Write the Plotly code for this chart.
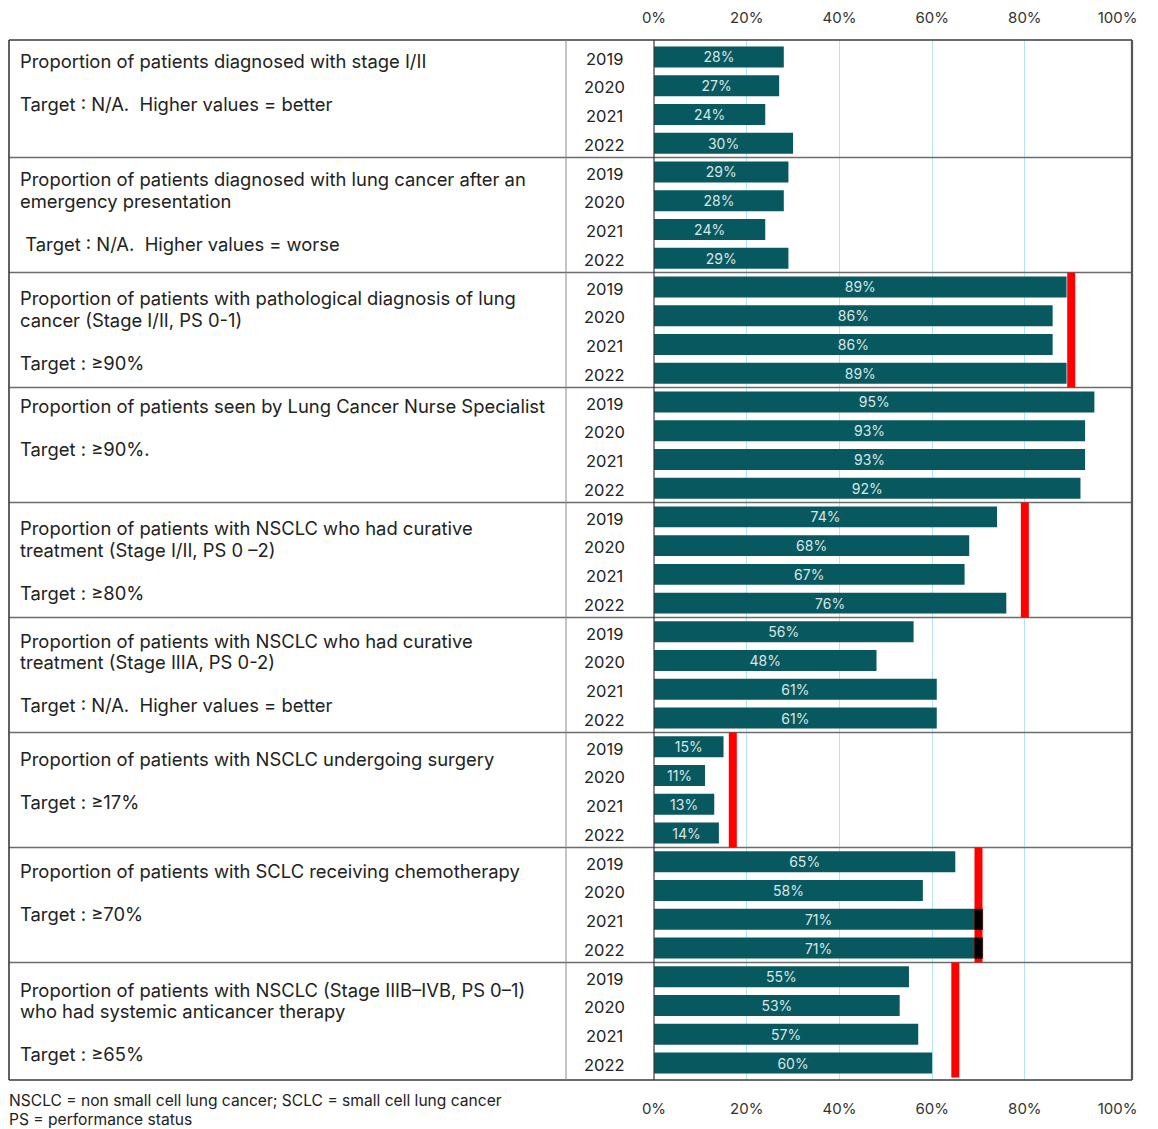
import plotly.graph_objects as go

# ---- data -------------------------------------------------------------
years = ["2019", "2020", "2021", "2022"]

stage_1_2 = [28, 27, 24, 30]
emergency_presentation = [29, 28, 24, 29]
pathological_diagnosis = [89, 86, 86, 89]
nurse_specialist = [95, 93, 93, 92]
curative_stage_1_2 = [74, 68, 67, 76]
curative_stage_3a = [56, 48, 61, 61]
nsclc_surgery = [15, 11, 13, 14]
sclc_chemotherapy = [65, 58, 71, 71]
systemic_therapy = [55, 53, 57, 60]

indicator_titles = [
    "Proportion of patients diagnosed with stage I/II",
    "Proportion of patients diagnosed with lung cancer after an<br>emergency presentation",
    "Proportion of patients with pathological diagnosis of lung<br>cancer (Stage I/II, PS 0-1)",
    "Proportion of patients seen by Lung Cancer Nurse Specialist",
    "Proportion of patients with NSCLC who had curative<br>treatment (Stage I/II, PS 0 \u20132)",
    "Proportion of patients with NSCLC who had curative<br>treatment (Stage IIIA, PS 0-2)",
    "Proportion of patients with NSCLC undergoing surgery",
    "Proportion of patients with SCLC receiving chemotherapy",
    "Proportion of patients with NSCLC (Stage IIIB\u2013IVB, PS 0\u20131)<br>who had systemic anticancer therapy",
]
target_texts = [
    "Target : N/A.\u00a0 Higher values = better",
    "\u00a0Target : N/A.\u00a0 Higher values = worse",
    "Target : \u226590%",
    "Target : \u226590%.",
    "Target : \u226580%",
    "Target : N/A.\u00a0 Higher values = better",
    "Target : \u226517%",
    "Target : \u226570%",
    "Target : \u226565%",
]
# target marker drawn on the chart (None = no marker)
target_lines = [None, None, 90, None, 80, None, 17, 70, 65]

footnote_lines = [
    "NSCLC = non small cell lung cancer; SCLC = small cell lung cancer",
    "PS = performance status",
]

series = [stage_1_2, emergency_presentation, pathological_diagnosis,
          nurse_specialist, curative_stage_1_2, curative_stage_3a,
          nsclc_surgery, sclc_chemotherapy, systemic_therapy]

# ---- geometry -----------------------------------------------------------
W, H = 1158, 1129
PLOT_L, PLOT_R, PLOT_T, PLOT_B = 654, 1131, 40, 1080
X_MAX = 102.9
N_SLOTS = len(series) * len(years)
PAD = 0.59
Y_RANGE = [N_SLOTS - 1 + PAD, -PAD]
SLOT_PX = (PLOT_B - PLOT_T) / (N_SLOTS - 1 + 2 * PAD)

# offset (px) of the first description line below the top of its row
first_line_px = [18.5, 21.5, 25.5, 18.5, 25.5, 23.5, 26.5, 23.5, 27.5]
LINE_PX = 21.5


def px_to_paper_x(px):
    return (px - PLOT_L) / (PLOT_R - PLOT_L)


def px_to_paper_y(px):
    return (PLOT_B - px) / (PLOT_B - PLOT_T)


TEAL = "#08595f"
RED = "#ff0000"
GRID = "#b6e2f5"
FONT = "Inter"
TEXT_COL = "#222222"

# flatten series into one bar per slot
slot_pos, slot_val, slot_lab, slot_year = [], [], [], []
for g, vals in enumerate(series):
    for i, v in enumerate(vals):
        slot_pos.append(g * len(years) + i)
        slot_val.append(v)
        slot_lab.append(f"{v}%")
        slot_year.append(years[i])

fig = go.Figure()
fig.add_trace(go.Bar(
    x=slot_val, y=slot_pos, orientation="h", width=0.73,
    marker=dict(color=TEAL, line=dict(width=0)),
    text=slot_lab, textposition="inside", insidetextanchor="middle",
    textfont=dict(family=FONT, size=14, color="#d9e6e6"),
    constraintext="none", hoverinfo="skip", showlegend=False,
))
# invisible traces that carry the bottom axis and the grid axis
for ax in ("x2", "x3"):
    fig.add_trace(go.Scatter(x=[0, 100], y=[0, 0], xaxis=ax, mode="markers",
                             marker=dict(opacity=0), hoverinfo="skip",
                             showlegend=False))

shapes = []
annotations = []

# group dividers spanning every column
for g in range(1, len(series)):
    yb = g * len(years) - 0.5
    shapes.append(dict(type="line", xref="paper", yref="y",
                       x0=px_to_paper_x(9), x1=px_to_paper_x(1132),
                       y0=yb, y1=yb, line=dict(color="#6b6b6b", width=1.6),
                       layer="above"))

# outer frame and column separators
frame = dict(color="#3a3a3a", width=1.6)
shapes += [
    dict(type="line", xref="paper", yref="paper", x0=px_to_paper_x(9),
         x1=px_to_paper_x(1132), y0=1, y1=1, line=frame, layer="above"),
    dict(type="line", xref="paper", yref="paper", x0=px_to_paper_x(9),
         x1=px_to_paper_x(1132), y0=0, y1=0, line=frame, layer="above"),
    dict(type="line", xref="paper", yref="paper", x0=px_to_paper_x(9),
         x1=px_to_paper_x(9), y0=0, y1=1, line=frame, layer="above"),
    dict(type="line", xref="paper", yref="paper", x0=px_to_paper_x(1132),
         x1=px_to_paper_x(1132), y0=0, y1=1,
         line=dict(color="#555555", width=2.2), layer="above"),
    dict(type="line", xref="paper", yref="paper", x0=px_to_paper_x(566),
         x1=px_to_paper_x(566), y0=0, y1=1,
         line=dict(color="#8a8a8a", width=1), layer="above"),
    dict(type="line", xref="paper", yref="paper", x0=0, x1=0, y0=0, y1=1,
         line=dict(color="#3a3a3a", width=1.2), layer="above"),
]

# target markers
half_w = 4 / ((PLOT_R - PLOT_L) / X_MAX)
for g, t in enumerate(target_lines):
    if t is None:
        continue
    y0 = g * len(years) - 0.5
    y1 = y0 + len(years)
    shapes.append(dict(type="rect", xref="x", yref="y",
                       x0=t - half_w, x1=t + half_w,
                       y0=max(y0, -PAD), y1=min(y1, N_SLOTS - 1 + PAD),
                       fillcolor=RED, line=dict(width=0), layer="above"))
    for i, v in enumerate(series[g]):
        if v > t - half_w:
            s = g * len(years) + i
            shapes.append(dict(type="rect", xref="x", yref="y",
                               x0=t - half_w, x1=min(v - 0.15, t + half_w),
                               y0=s - 0.365, y1=s + 0.365,
                               fillcolor="#000000", line=dict(width=0),
                               layer="above"))

# indicator descriptions, one annotation per text line
for g, (title, tgt) in enumerate(zip(indicator_titles, target_texts)):
    top = g * len(years) - 0.5
    lines = title.split("<br>") + [None, tgt]
    for k, line in enumerate(lines):
        if line is None:
            continue
        annotations.append(dict(
            xref="paper", yref="y", x=px_to_paper_x(18),
            y=top + (first_line_px[g] + k * LINE_PX) / SLOT_PX,
            xanchor="left", yanchor="middle", align="left", showarrow=False,
            text=line, font=dict(family=FONT, size=18.4, color=TEXT_COL),
        ))

# year labels
for s, yr in zip(slot_pos, slot_year):
    annotations.append(dict(
        xref="paper", yref="y", x=px_to_paper_x(604), y=s + 0.06,
        xanchor="center", yanchor="middle", showarrow=False, text=yr,
        font=dict(family=FONT, size=16.5, color=TEXT_COL),
    ))

# footnote
for k, line in enumerate(footnote_lines):
    annotations.append(dict(
        xref="paper", yref="paper", x=px_to_paper_x(7),
        y=px_to_paper_y(1100 + k * 19),
        xanchor="left", yanchor="middle", align="left", showarrow=False,
        text=line, font=dict(family=FONT, size=15.6, color=TEXT_COL),
    ))

axis_common = dict(
    range=[0, X_MAX], tickvals=[0, 20, 40, 60, 80, 100],
    ticktext=["0%", "20%", "40%", "60%", "80%", "100%"],
    tickfont=dict(family=FONT, size=15, color="#333333"),
    ticks="", zeroline=False, automargin=False, showline=False,
    showgrid=False,
)

fig.update_layout(
    width=W, height=H,
    margin=dict(l=PLOT_L, r=W - PLOT_R, t=PLOT_T, b=H - PLOT_B),
    paper_bgcolor="white", plot_bgcolor="white",
    xaxis=dict(side="top", ticklabelstandoff=13, **axis_common),
    xaxis2=dict(side="bottom", overlaying="x", matches="x",
                ticklabelstandoff=18, **axis_common),
    xaxis3=dict(overlaying="x", matches="x", range=[0, X_MAX],
                tickvals=[20, 40, 60, 80], showticklabels=False,
                showgrid=True, gridcolor=GRID, gridwidth=1, ticks="",
                zeroline=False, showline=False, automargin=False),
    yaxis=dict(range=Y_RANGE, showticklabels=False, showgrid=False,
               zeroline=False, ticks="", fixedrange=True, automargin=False),
    shapes=shapes, annotations=annotations,
    font=dict(family=FONT),
)

fig.write_html("out.html")
